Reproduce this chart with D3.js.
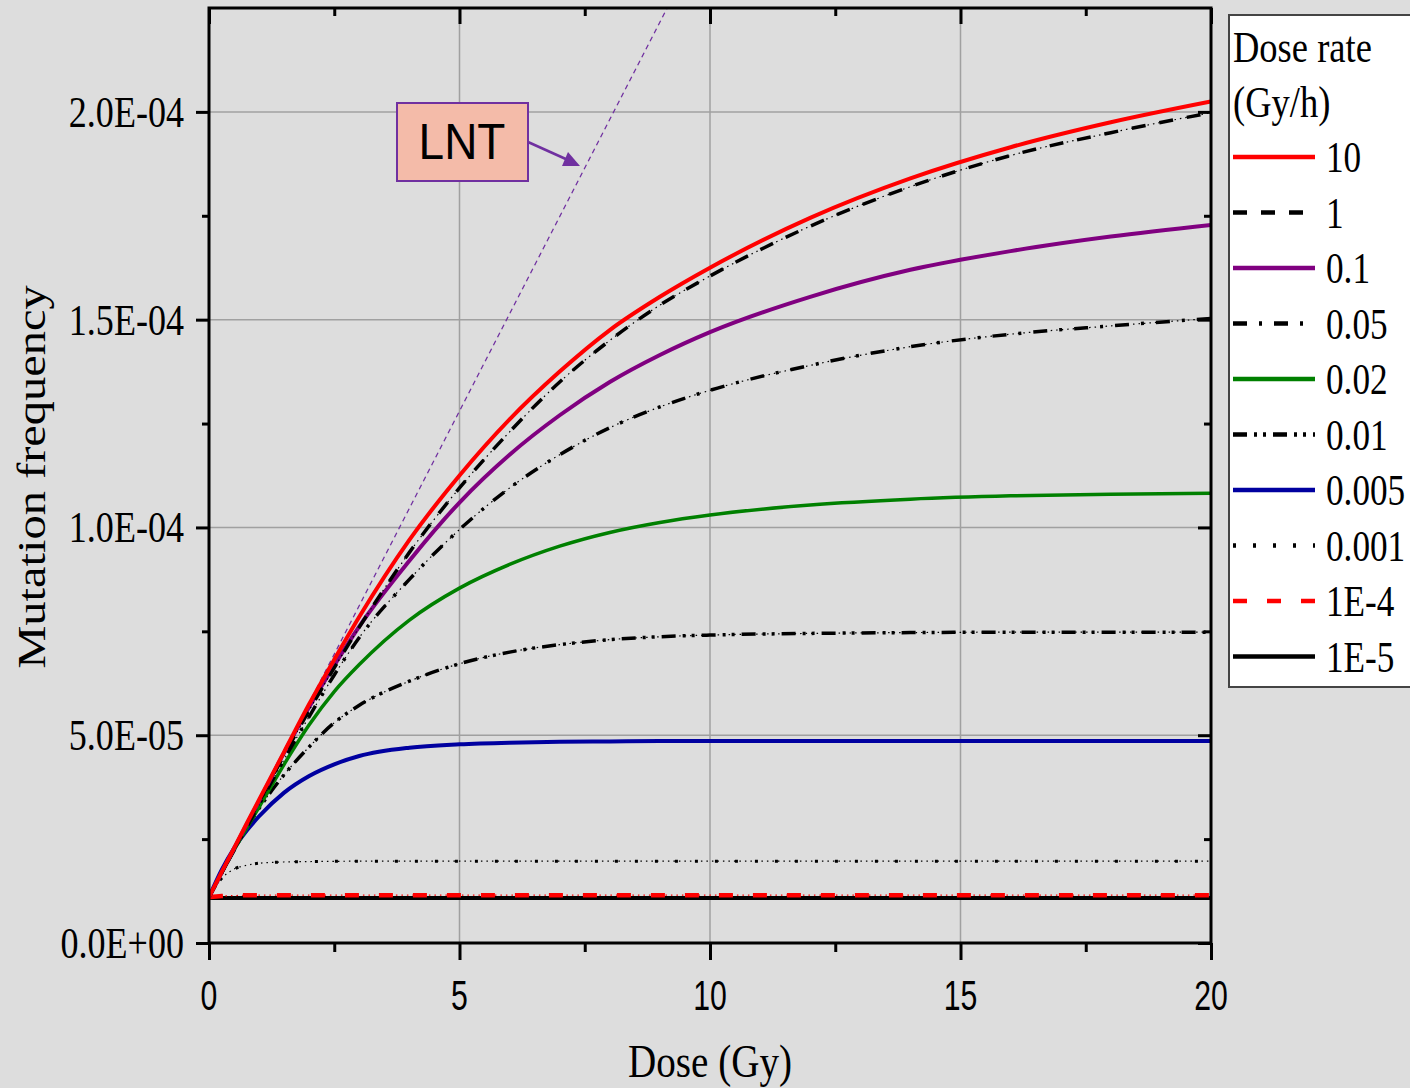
<!DOCTYPE html>
<html><head><meta charset="utf-8">
<script src="https://cdn.jsdelivr.net/npm/d3@7"></script>
<style>html,body{margin:0;padding:0;background:#dddddd;} svg{display:block}</style>
</head><body>
<svg id="c" width="1410" height="1088"></svg>
<script>
// ---- data (mutation frequency in units of 1E-05) ----
const doses = [0,0.25,0.5,0.75,1,1.5,2,2.5,3,4,5,6,7,8,9,10,12,14,16,18,20];
const seriesNames = ["10","1","0.1","0.05","0.02","0.01","0.005","0.001","1E-4","1E-5"];
const rate10   = [1.1,1.7,2.28,2.87,3.45,4.6,5.75,6.82,7.85,9.7,11.25,12.6,13.75,14.75,15.55,16.25,17.45,18.4,19.15,19.75,20.25];
const rate1    = [1.1,1.68,2.25,2.83,3.4,4.52,5.6,6.62,7.6,9.4,10.95,12.3,13.5,14.5,15.35,16.05,17.25,18.2,18.95,19.5,19.98];
const rate0_1  = [1.1,1.69,2.27,2.85,3.42,4.58,5.68,6.68,7.62,9.2,10.6,11.75,12.7,13.5,14.15,14.7,15.55,16.2,16.65,17.0,17.28];
const rate0_05 = [1.1,1.67,2.23,2.78,3.33,4.42,5.45,6.45,7.35,8.75,9.95,10.95,11.75,12.4,12.9,13.3,13.9,14.35,14.65,14.85,15.03];
const rate0_02 = [1.1,1.68,2.24,2.76,3.27,4.3,5.25,6.05,6.7,7.77,8.54,9.11,9.55,9.88,10.12,10.3,10.54,10.68,10.76,10.8,10.82];
const rate0_01 = [1.1,1.68,2.24,2.76,3.24,4.05,4.72,5.3,5.72,6.3,6.72,7.0,7.18,7.3,7.37,7.41,7.45,7.47,7.48,7.48,7.48];
const rate0_005= [1.1,1.75,2.28,2.7,3.05,3.62,4.02,4.3,4.5,4.7,4.78,4.82,4.84,4.85,4.86,4.86,4.86,4.86,4.86,4.86,4.86];
const rate0_001= [1.1,1.55,1.78,1.87,1.92,1.95,1.96,1.965,1.97,1.97,1.97,1.97,1.97,1.97,1.97,1.97,1.97,1.97,1.97,1.97,1.97];
const rate1e4  = [1.1,1.13,1.14,1.15,1.15,1.15,1.15,1.15,1.15,1.15,1.15,1.15,1.15,1.15,1.15,1.15,1.15,1.15,1.15,1.15,1.15];
const rate1e5  = [1.08,1.08,1.08,1.08,1.08,1.08,1.08,1.08,1.08,1.08,1.08,1.08,1.08,1.08,1.08,1.08,1.08,1.08,1.08,1.08,1.08];
const seriesValues = [rate10,rate1,rate0_1,rate0_05,rate0_02,rate0_01,rate0_005,rate0_001,rate1e4,rate1e5];
const lntDoses = [0, 10];
const lntValues = [1.1, 24.5];
const xTickValues = [0,5,10,15,20];
const xTickLabels = ["0","5","10","15","20"];
const xMinorTicks = [2.5,7.5,12.5,17.5];
const yTickValues = [0,5,10,15,20];
const yTickLabels = ["0.0E+00","5.0E-05","1.0E-04","1.5E-04","2.0E-04"];
const yMinorTicks = [2.5,7.5,12.5,17.5];
const legendTitle = ["Dose rate","(Gy/h)"];
const xTitle = "Dose (Gy)";
const yTitle = "Mutation frequency";
const annotation = "LNT";

// ---- styles ----
const styles = [
  {c:"#ff0000", w:4,   d:null},
  {c:"#000000", w:3.5, d:"14,14"},
  {c:"#800080", w:4,   d:null},
  {c:"#000000", w:3.5, d:"14,12,3,12"},
  {c:"#008000", w:3.5, d:null},
  {c:"#000000", w:3.5, d:"14,7,3,6,3,7"},
  {c:"#0000a0", w:4,   d:null},
  {c:"#000000", w:3,   d:"3,17"},
  {c:"#ff0000", w:4.5, d:"14,20"},
  {c:"#000000", w:4,   d:null}
];
const serif = "'Liberation Serif','Times New Roman',serif";
const sans = "'Liberation Sans',Arial,sans-serif";

const svg = d3.select("#c");
svg.append("rect").attr("width",1410).attr("height",1088).attr("fill","#dddddd");
const x = d3.scaleLinear().domain([0,20]).range([209,1211]);
const y = d3.scaleLinear().domain([0,22.5]).range([943,8]);

svg.append("defs").append("clipPath").attr("id","plot")
  .append("rect").attr("x",x(0)).attr("y",y(22.5)).attr("width",x(20)-x(0)).attr("height",y(0)-y(22.5));

// grid
const grid = svg.append("g").attr("stroke","#a0a0a0").attr("stroke-width",1.5);
grid.selectAll(".gx").data(xTickValues.slice(1,-1)).join("line")
  .attr("x1",d=>x(d)).attr("x2",d=>x(d)).attr("y1",y(0)).attr("y2",y(22.5));
grid.selectAll(".gy").data(yTickValues.slice(1)).join("line")
  .attr("y1",d=>y(d)).attr("y2",d=>y(d)).attr("x1",x(0)).attr("x2",x(20));

// LNT line
const lntPts = lntDoses.map((d,i)=>[d,lntValues[i]]);
const line = d3.line().x(d=>x(d[0])).y(d=>y(d[1]));
svg.append("path").attr("clip-path","url(#plot)").attr("d",line(lntPts))
  .attr("fill","none").attr("stroke","#7030a0").attr("stroke-width",1.3).attr("stroke-dasharray","5,4");

// curves (drawn from last to first so red is on top)
const curves = svg.append("g").attr("clip-path","url(#plot)");
for (let i = seriesValues.length-1; i >= 0; i--) {
  const pts = doses.map((d,k)=>[d, seriesValues[i][k]]);
  const cl = d3.line().curve(d3.curveMonotoneX).x(d=>x(d[0])).y(d=>y(d[1]));
  const s = styles[i];
  if (s.d) {
    curves.append("path").attr("d",cl(pts)).attr("fill","none")
      .attr("stroke",s.c).attr("stroke-width",1.2).attr("stroke-dasharray","1.5,4");
  }
  curves.append("path").attr("d",cl(pts)).attr("fill","none")
    .attr("stroke",s.c).attr("stroke-width",s.w).attr("stroke-dasharray",s.d);
}

// axes ticks
function ticks(gen, tr, vals, size) {
  svg.append("g").attr("transform",tr)
    .call(gen.tickValues(vals).tickSize(size).tickSizeOuter(0).tickFormat(""))
    .call(g=>g.select(".domain").remove())
    .selectAll("line").attr("stroke","#000").attr("stroke-width",3);
}
ticks(d3.axisBottom(x), `translate(0,${y(0)})`, xTickValues, 17);
ticks(d3.axisBottom(x), `translate(0,${y(0)})`, xMinorTicks, 9);
ticks(d3.axisTop(x), `translate(0,${y(22.5)})`, xTickValues, -16);
ticks(d3.axisTop(x), `translate(0,${y(22.5)})`, xMinorTicks, -8);
ticks(d3.axisLeft(y), `translate(${x(0)},0)`, yTickValues, 13);
ticks(d3.axisLeft(y), `translate(${x(0)},0)`, yMinorTicks, 7);
ticks(d3.axisRight(y), `translate(${x(20)},0)`, yTickValues, -13);
ticks(d3.axisRight(y), `translate(${x(20)},0)`, yMinorTicks, -7);

// frame
svg.append("rect").attr("x",x(0)).attr("y",y(22.5)).attr("width",x(20)-x(0)).attr("height",y(0)-y(22.5))
  .attr("fill","none").attr("stroke","#000").attr("stroke-width",3);

// tick labels
svg.append("g").selectAll("text").data(yTickValues).join("text")
  .attr("transform",d=>`translate(184,${y(d)+15}) scale(0.82,1)`)
  .attr("text-anchor","end").attr("font-family",serif).attr("font-size",44).attr("fill","#000")
  .text((d,i)=>yTickLabels[i]);
svg.append("g").selectAll("text").data(xTickValues).join("text")
  .attr("transform",d=>`translate(${x(d)},1010) scale(0.72,1)`)
  .attr("text-anchor","middle").attr("font-family",sans).attr("font-size",42).attr("fill","#000")
  .text((d,i)=>xTickLabels[i]);

// axis titles
svg.append("text").attr("transform",`translate(${x(10)},1077) scale(0.85,1)`)
  .attr("text-anchor","middle").attr("font-family",serif).attr("font-size",46).text(xTitle);
svg.append("text").attr("transform",`translate(45,477) rotate(-90) scale(1,0.84)`)
  .attr("text-anchor","middle").attr("font-family",serif).attr("font-size",48.5).text(yTitle);

// LNT annotation
svg.append("rect").attr("x",397).attr("y",103).attr("width",131).attr("height",78)
  .attr("fill","#f4bba9").attr("stroke","#7030a0").attr("stroke-width",2);
svg.append("text").attr("transform","translate(462,159) scale(0.92,1)").attr("text-anchor","middle")
  .attr("font-family",sans).attr("font-size",50).attr("fill","#000").text(annotation);
svg.append("line").attr("x1",528).attr("y1",142).attr("x2",568).attr("y2",160)
  .attr("stroke","#7030a0").attr("stroke-width",2.5);
svg.append("path").attr("d","M580,166 L562,166 L568,152 Z").attr("fill","#7030a0");

// legend
const lg = svg.append("g");
lg.append("rect").attr("x",1229).attr("y",15).attr("width",200).attr("height",672)
  .attr("fill","#ffffff").attr("stroke","#444").attr("stroke-width",2);
lg.selectAll(".t").data(legendTitle).join("text")
  .attr("transform",(d,i)=>`translate(1233,${62+i*55}) scale(0.83,1)`)
  .attr("font-family",serif).attr("font-size",44).attr("fill","#000").text(d=>d);
seriesNames.forEach((n,i)=>{
  const yy = 157 + i*55.5;
  const s = styles[i];
  lg.append("line").attr("x1",1233).attr("x2",1315).attr("y1",yy).attr("y2",yy)
    .attr("stroke",s.c).attr("stroke-width",4.5).attr("stroke-dasharray",s.d);
  lg.append("text").attr("transform",`translate(1326,${yy+15}) scale(0.8,1)`)
    .attr("font-family",serif).attr("font-size",44).attr("fill","#000").text(n);
});
</script>
</body></html>
